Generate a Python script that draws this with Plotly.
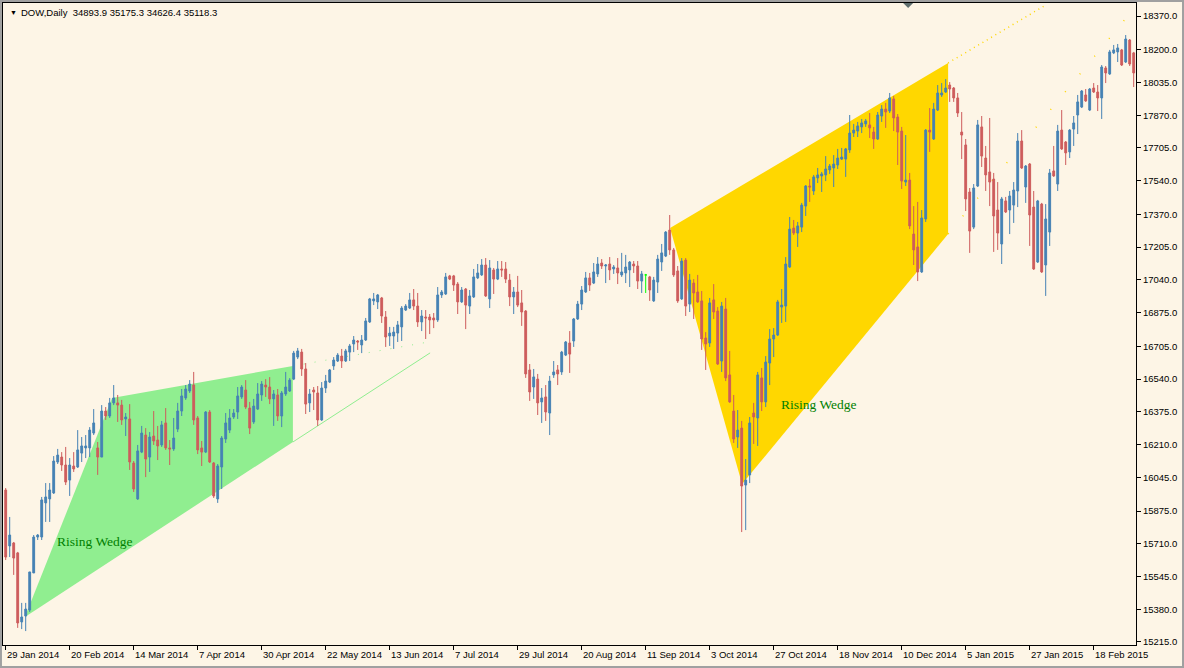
import plotly.graph_objects as go

# DOW daily bars (one value per trading bar, left to right)
opens = [
    15981, 15699, 15714, 15664, 15316, 15346, 15376, 15563, 15744, 15744,
    15916, 15936, 15966, 16122, 16147, 16107, 16031, 16102, 16097, 16167,
    16193, 16193, 16268, 16193, 16147, 16379, 16354, 16420, 16420, 16409,
    16339, 16339, 16117, 15936, 16172, 16258, 16147, 16253, 16233, 16208,
    16319, 16193, 16188, 16288, 16379, 16445, 16480, 16510, 16344, 16193,
    16172, 16374, 16117, 15936, 16097, 16238, 16283, 16349, 16374, 16450,
    16485, 16394, 16324, 16389, 16460, 16510, 16500, 16440, 16460, 16354,
    16465, 16480, 16540, 16651, 16676, 16591, 16420, 16485, 16470, 16334,
    16495, 16525, 16606, 16631, 16656, 16631, 16676, 16717, 16732, 16712,
    16737, 16828, 16934, 16929, 16949, 16853, 16757, 16757, 16772, 16803,
    16888, 16898, 16939, 16908, 16828, 16853, 16853, 16848, 16838, 16964,
    16969, 17060, 17060, 17019, 16929, 16994, 16908, 16954, 17050, 17065,
    17115, 16944, 17090, 17044, 17095, 17095, 17039, 16954, 16979, 16924,
    16883, 16586, 16500, 16540, 16425, 16450, 16369, 16561, 16586, 16576,
    16661, 16722, 16732, 16843, 16918, 16979, 17050, 17024, 17070, 17125,
    17110, 17120, 17095, 17100, 17065, 17075, 17090, 17120, 17110, 17034,
    17065, 17055, 16934, 17029, 17130, 17160, 17291, 17191, 17085, 16944,
    17140, 16918, 17024, 16979, 16934, 16747, 16722, 16939, 16883, 16631,
    16893, 16561, 16379, 16248, 16293, 16006, 16057, 16369, 16344, 16546,
    16425, 16621, 16742, 16762, 16903, 16908, 17105, 17301, 17276, 17306,
    17412, 17513, 17488, 17554, 17564, 17569, 17594, 17604, 17619, 17649,
    17649, 17695, 17780, 17790, 17811, 17826, 17821, 17785, 17750, 17866,
    17901, 17891, 17952, 17861, 17790, 17533, 17543, 17271, 17206, 17080,
    17347, 17795, 17750, 17896, 17972, 17987, 18022, 18007, 17957, 17785,
    17720, 17483, 17306, 17513, 17811, 17654, 17584, 17548, 17392, 17221,
    17438, 17392, 17417, 17488, 17740, 17508, 17624, 17407, 17130, 17422,
    17115, 17281, 17589, 17523, 17795, 17735, 17685, 17800, 17871, 17911,
    17972, 17896, 18007, 17987, 17957, 18108, 18078, 18184, 18189, 18199,
    18138, 18249, 18184,
]
highs = [
    15991, 15845, 15719, 15669, 15412, 15412, 15568, 15754, 15759, 15946,
    16016, 16016, 16152, 16188, 16172, 16198, 16142, 16172, 16283, 16248,
    16258, 16298, 16389, 16223, 16409, 16399, 16445, 16510, 16460, 16435,
    16369, 16414, 16127, 16208, 16304, 16293, 16273, 16379, 16304, 16329,
    16394, 16233, 16344, 16420, 16490, 16510, 16535, 16576, 16354, 16228,
    16379, 16384, 16122, 16112, 16253, 16369, 16389, 16389, 16500, 16510,
    16535, 16425, 16440, 16520, 16530, 16540, 16550, 16485, 16490, 16480,
    16576, 16545, 16682, 16697, 16692, 16621, 16490, 16500, 16505, 16525,
    16561, 16591, 16651, 16671, 16692, 16692, 16717, 16757, 16737, 16762,
    16848, 16949, 16974, 16969, 16954, 16883, 16803, 16803, 16833, 16908,
    16918, 16974, 16994, 16974, 16888, 16888, 16868, 16873, 17004, 16989,
    17075, 17065, 17065, 17029, 17004, 16999, 16989, 17095, 17120, 17145,
    17150, 17140, 17100, 17135, 17135, 17130, 17070, 17004, 17060, 16989,
    16888, 16616, 16591, 16566, 16495, 16510, 16556, 16631, 16611, 16682,
    16732, 16782, 16848, 16934, 17009, 17080, 17075, 17125, 17155, 17145,
    17120, 17155, 17115, 17150, 17176, 17166, 17135, 17135, 17135, 17085,
    17070, 17060, 17055, 17166, 17221, 17286, 17367, 17201, 17110, 17150,
    17150, 17070, 17044, 17065, 16984, 16777, 16949, 17019, 16903, 16929,
    16949, 16682, 16460, 16384, 16329, 16137, 16349, 16420, 16576, 16596,
    16656, 16792, 16797, 16939, 16994, 17155, 17357, 17342, 17332, 17428,
    17518, 17548, 17569, 17604, 17584, 17664, 17624, 17669, 17700, 17705,
    17705, 17871, 17826, 17836, 17851, 17851, 17881, 17811, 17886, 17921,
    17932, 17982, 17967, 17876, 17811, 17770, 17579, 17412, 17433, 17392,
    17800, 17906, 17932, 18022, 18032, 18052, 18037, 18012, 17982, 17886,
    17750, 17503, 17523, 17846, 17866, 17715, 17856, 17579, 17533, 17458,
    17458, 17488, 17533, 17780, 17795, 17619, 17629, 17488, 17443, 17428,
    17422, 17599, 17715, 17821, 17896, 17740, 17800, 17866, 17972, 17997,
    18002, 18007, 18032, 18022, 18123, 18118, 18199, 18224, 18229, 18204,
    18274, 18254, 18189,
]
lows = [
    15628, 15643, 15553, 15286, 15280, 15270, 15366, 15563, 15729, 15729,
    15820, 15820, 15961, 16112, 16077, 16006, 15951, 16072, 16092, 16122,
    16142, 16147, 16258, 16057, 16147, 16334, 16344, 16409, 16324, 16309,
    16253, 16082, 15971, 15931, 16167, 16046, 16072, 16208, 16132, 16198,
    16183, 16107, 16178, 16273, 16354, 16435, 16470, 16309, 16162, 16102,
    16167, 16117, 15941, 15916, 15986, 16218, 16268, 16339, 16339, 16440,
    16389, 16263, 16314, 16384, 16430, 16450, 16414, 16304, 16329, 16298,
    16455, 16475, 16535, 16641, 16556, 16364, 16374, 16384, 16304, 16329,
    16470, 16520, 16586, 16626, 16596, 16626, 16631, 16676, 16687, 16671,
    16732, 16823, 16913, 16893, 16823, 16702, 16707, 16692, 16727, 16732,
    16883, 16893, 16888, 16803, 16782, 16742, 16767, 16797, 16828, 16949,
    16964, 17039, 16984, 16868, 16924, 16792, 16868, 16949, 17044, 17060,
    16954, 16898, 16969, 17039, 17055, 17024, 16908, 16868, 16903, 16808,
    16546, 16430, 16440, 16359, 16319, 16329, 16258, 16546, 16510, 16561,
    16656, 16571, 16702, 16838, 16888, 16974, 16984, 17019, 17055, 17095,
    17024, 17039, 17070, 17019, 17055, 17024, 17004, 17075, 16994, 16974,
    16974, 16934, 16929, 16974, 17085, 17155, 17166, 17055, 16924, 16939,
    16858, 16878, 16843, 16924, 16687, 16586, 16702, 16843, 16611, 16576,
    16530, 16420, 16218, 16193, 15769, 15779, 16016, 16213, 16203, 16379,
    16399, 16510, 16651, 16757, 16823, 16828, 17100, 17266, 17206, 17281,
    17362, 17433, 17468, 17528, 17483, 17538, 17574, 17508, 17599, 17644,
    17559, 17680, 17760, 17760, 17780, 17811, 17755, 17700, 17745, 17836,
    17806, 17881, 17790, 17619, 17498, 17513, 17296, 17115, 17034, 17075,
    17332, 17685, 17745, 17891, 17962, 17982, 17937, 17937, 17861, 17649,
    17387, 17176, 17296, 17508, 17609, 17488, 17412, 17181, 17191, 17120,
    17377, 17271, 17327, 17407, 17599, 17428, 17211, 17090, 17125, 17075,
    16959, 17211, 17559, 17488, 17695, 17619, 17654, 17715, 17775, 17906,
    17937, 17891, 17982, 17891, 17851, 18032, 18073, 18178, 18138, 18118,
    18133, 18118, 18012,
]
closes = [
    15643, 15754, 15638, 15311, 15341, 15381, 15568, 15744, 15754, 15931,
    15946, 15981, 16127, 16157, 16107, 16021, 16107, 16087, 16183, 16203,
    16203, 16283, 16319, 16147, 16379, 16354, 16420, 16445, 16409, 16334,
    16349, 16122, 15986, 16178, 16268, 16137, 16248, 16228, 16203, 16309,
    16193, 16188, 16243, 16379, 16455, 16490, 16515, 16334, 16183, 16172,
    16374, 16122, 15951, 16102, 16243, 16319, 16344, 16369, 16455, 16500,
    16399, 16293, 16404, 16465, 16515, 16500, 16440, 16465, 16354, 16470,
    16500, 16535, 16671, 16682, 16591, 16414, 16465, 16475, 16334, 16495,
    16530, 16586, 16636, 16661, 16631, 16682, 16707, 16737, 16727, 16737,
    16833, 16944, 16944, 16964, 16858, 16752, 16772, 16777, 16813, 16898,
    16908, 16939, 16908, 16828, 16858, 16848, 16838, 16838, 16964, 16979,
    17055, 17044, 17014, 16929, 16989, 16913, 16959, 17055, 17075, 17115,
    16959, 17100, 17044, 17095, 17090, 17044, 16954, 16979, 16913, 16878,
    16566, 16475, 16551, 16420, 16445, 16374, 16530, 16576, 16566, 16676,
    16727, 16666, 16843, 16918, 16989, 17050, 17014, 17080, 17120, 17110,
    17115, 17090, 17105, 17075, 17080, 17105, 17130, 17110, 17034, 17070,
    17065, 16989, 17039, 17145, 17176, 17281, 17191, 17065, 16934, 17135,
    16908, 17039, 16974, 16929, 16742, 16717, 16924, 16878, 16616, 16908,
    16546, 16425, 16238, 16283, 16001, 16031, 16319, 16349, 16561, 16425,
    16626, 16742, 16762, 16929, 16913, 17120, 17296, 17276, 17312, 17417,
    17513, 17508, 17559, 17569, 17574, 17599, 17614, 17624, 17654, 17659,
    17700, 17780, 17795, 17816, 17831, 17841, 17806, 17750, 17871, 17901,
    17886, 17957, 17856, 17785, 17538, 17543, 17312, 17191, 17080, 17352,
    17795, 17785, 17901, 17982, 17982, 18007, 18002, 17957, 17881, 17770,
    17448, 17286, 17503, 17821, 17664, 17569, 17533, 17362, 17276, 17448,
    17382, 17463, 17493, 17740, 17604, 17614, 17367, 17095, 17438, 17080,
    17347, 17579, 17564, 17790, 17700, 17680, 17795, 17831, 17937, 17992,
    17942, 18002, 17987, 17957, 18113, 18083, 18189, 18199, 18209, 18123,
    18254, 18128, 18083,
]
assert len(opens) == len(highs) == len(lows) == len(closes)

date_labels = [
    "29 Jan 2014", "20 Feb 2014", "14 Mar 2014", "7 Apr 2014", "30 Apr 2014",
    "22 May 2014", "13 Jun 2014", "7 Jul 2014", "29 Jul 2014", "20 Aug 2014",
    "11 Sep 2014", "3 Oct 2014", "27 Oct 2014", "18 Nov 2014", "10 Dec 2014",
    "5 Jan 2015", "27 Jan 2015", "18 Feb 2015",
]
price_ticks = [18370, 18200, 18035, 17870, 17705, 17540, 17370, 17205, 17040, 16875,
               16705, 16540, 16375, 16210, 16045, 15875, 15710, 15545, 15380, 15215]

# wedge objects drawn on the chart: (bar index, price) corners
wedge1_x = [4.8, 26.6, 71.8, 71.8]
wedge1_y = [15341, 16445, 16606, 16223]
wedge2_x = [166.1, 235.6, 235.6, 184.1]
wedge2_y = [17301, 18133, 17271, 16011]
label_x = [22.3, 203.3]
label_y = [15719, 16414]

BG = "#FDF5E6"
BLUE = "#4682B4"
RED = "#CD5C5C"

bars = list(range(len(opens)))
normal = [i for i in bars if opens[i] != closes[i]]
doji = [i for i in bars if opens[i] == closes[i]]


def pick(arr, idx):
    return [arr[i] for i in idx]


fig = go.Figure()
fig.add_trace(go.Candlestick(
    x=normal,
    open=pick(opens, normal), high=pick(highs, normal),
    low=pick(lows, normal), close=pick(closes, normal),
    increasing=dict(line=dict(color=BLUE, width=1), fillcolor=BLUE),
    decreasing=dict(line=dict(color=RED, width=1), fillcolor=RED),
    whiskerwidth=0, showlegend=False,
))
fig.add_trace(go.Candlestick(
    x=doji,
    open=pick(opens, doji), high=pick(highs, doji),
    low=pick(lows, doji), close=pick(closes, doji),
    increasing=dict(line=dict(color="#00FF00", width=1), fillcolor="#00FF00"),
    decreasing=dict(line=dict(color="#00FF00", width=1), fillcolor="#00FF00"),
    whiskerwidth=0, showlegend=False,
))


def poly(xs, ys):
    pts = " L ".join(f"{x},{y}" for x, y in zip(xs, ys))
    return f"M {pts} Z"


shapes = [
    dict(type="path", path=poly(wedge1_x, wedge1_y), xref="x", yref="y",
         fillcolor="#90EE90", line=dict(width=0), layer="below"),
    dict(type="path", path=poly(wedge2_x, wedge2_y), xref="x", yref="y",
         fillcolor="#FFD700", line=dict(width=0), layer="below"),
    # ray extensions
    dict(type="line", xref="x", yref="y", x0=71.8, y0=16223, x1=106.1, y1=16672,
         line=dict(color="#90EE90", width=1), layer="below"),
    dict(type="line", xref="x", yref="y", x0=71.8, y0=16606, x1=106.0, y1=16728,
         line=dict(color="#90EE90", width=1, dash="1px,10px"), layer="below"),
    dict(type="line", xref="x", yref="y", x0=235.6, y0=17271, x1=281.0, y1=18382,
         line=dict(color="#FFD700", width=1.5, dash="1px,22px"), layer="below"),
    dict(type="line", xref="x", yref="y", x0=235.6, y0=18133, x1=259.5, y1=18419,
         line=dict(color="#FFD700", width=1.5, dash="1px,4px"), layer="below"),
    # chart shift marker
    dict(type="path", xref="x", yref="paper", xsizemode="pixel", ysizemode="pixel",
         xanchor=225.6, yanchor=1, path="M -5,0 L 5,0 L 0,-5 Z",
         fillcolor="#5F6F6F", line=dict(width=0)),
    # window border
    dict(type="rect", xref="paper", yref="paper", x0=-0.0018, x1=1.0415,
         y0=-0.0343, y1=1.0031, line=dict(color="#A0A0A0", width=2)),
]

annotations = [
    dict(text="▼", xref="paper", yref="paper", x=0, y=1, xanchor="left", yanchor="top",
         xshift=5, yshift=-4, showarrow=False, font=dict(size=7, color="black")),
    dict(text="DOW,Daily&nbsp; 34893.9 35175.3 34626.4 35118.3", xref="paper", yref="paper",
         x=0, y=1, xanchor="left", yanchor="top", xshift=16, yshift=-2, showarrow=False,
         font=dict(size=9.5, color="black")),
]
for k, lab in enumerate(date_labels):
    annotations.append(dict(text=lab, xref="x", yref="paper", x=16 * k, y=0,
                            xanchor="left", yanchor="top", xshift=-1, yshift=-2,
                            showarrow=False, font=dict(size=9.5, color="black")))
for lx, ly in zip(label_x, label_y):
    annotations.append(dict(text="Rising Wedge", x=lx, y=ly, xref="x", yref="y",
                            showarrow=False,
                            font=dict(family="Liberation Serif", size=13.5, color="#008000")))

fig.update_layout(
    width=1184, height=668,
    paper_bgcolor=BG, plot_bgcolor=BG,
    margin=dict(l=3, r=48, t=3, b=23),
    showlegend=False,
    boxgap=0.35,
    font=dict(family="Liberation Sans", size=9.5, color="black"),
    xaxis=dict(range=[-0.675, 282.575], rangeslider=dict(visible=False),
               showgrid=False, zeroline=False, showline=True, linecolor="black",
               linewidth=1, mirror=True, tickvals=[16 * k for k in range(len(date_labels))],
               ticks="outside", ticklen=4, tickcolor="black", showticklabels=False),
    yaxis=dict(range=[15199.8, 18435.5], side="right", showgrid=False, zeroline=False,
               showline=True, linecolor="black", linewidth=1, mirror=True,
               tickvals=price_ticks, ticktext=[f"{v:.1f}" for v in price_ticks],
               ticks="outside", ticklen=4, tickcolor="black"),
    shapes=shapes,
    annotations=annotations,
)

# page has a default 8px body margin; drop it so the chart fills the window
fig.write_html("out.html", config={"displayModeBar": False},
               post_script="document.body.style.margin='0px';")
